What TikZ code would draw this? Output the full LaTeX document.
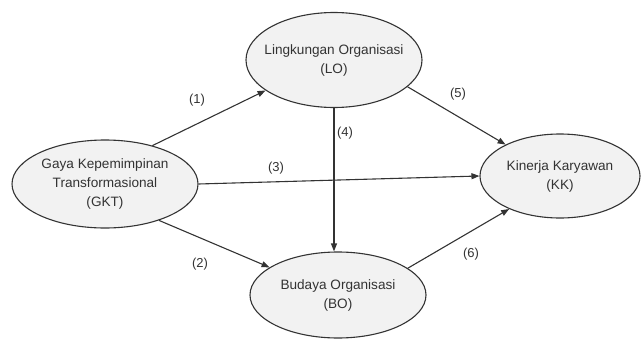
\documentclass[tikz,border=0pt]{standalone}
\usepackage{fontspec}
\setmainfont{Liberation Sans}
\usepackage{tikz}
\usetikzlibrary{shapes.geometric,arrows.meta}
\definecolor{ink}{HTML}{333333}
\definecolor{shade}{HTML}{F2F2F2}

\begin{document}
\begin{tikzpicture}[x=1pt, y=-1pt, line width=1.1pt,
	var/.style = {draw=ink, fill=shade, ellipse, inner sep=-15pt, align=center, text=ink, font=\fontsize{13.6}{19}\selectfont},
	num/.style = {text=ink, font=\fontsize{13}{15}\selectfont},
	path/.style = {draw=ink, -{Triangle[length=8pt,width=6pt]}}]
	\useasboundingbox (0,0) rectangle (641,340);
	\node[var, minimum width=186pt, minimum height=88pt] (GKT) at (105,184){Gaya Kepemimpinan\\Transformasional\\(GKT)};
	\node[var, minimum width=176pt, minimum height=95pt] (LO) at (334,60){Lingkungan Organisasi\\(LO)};
	\node[var, minimum width=176pt, minimum height=86pt] (BO) at (338,295){Budaya Organisasi\\(BO)};
	\node[var, minimum width=160pt, minimum height=84pt] (KK) at (560,176){Kinerja Karyawan\\(KK)};
	\draw[path] (GKT.39) -- (LO.204);
	\draw[path] (GKT.-34) -- (BO.158);
	\draw[path] (GKT.east) -- (KK.west);
	\draw[path] (LO.south) -- (LO.south |- BO.north);
	\draw[path] (LO.-20) -- (KK.150);
	\draw[path] (BO.21) -- (KK.213);
	\node[num] (n1) at (197,100){(1)};
	\node[num] (n2) at (200,264){(2)};
	\node[num] (n3) at (276,168){(3)};
	\node[num] (n4) at (345,133){(4)};
	\node[num] (n5) at (458,94){(5)};
	\node[num] (n6) at (471,254){(6)};
\end{tikzpicture}
\end{document}
